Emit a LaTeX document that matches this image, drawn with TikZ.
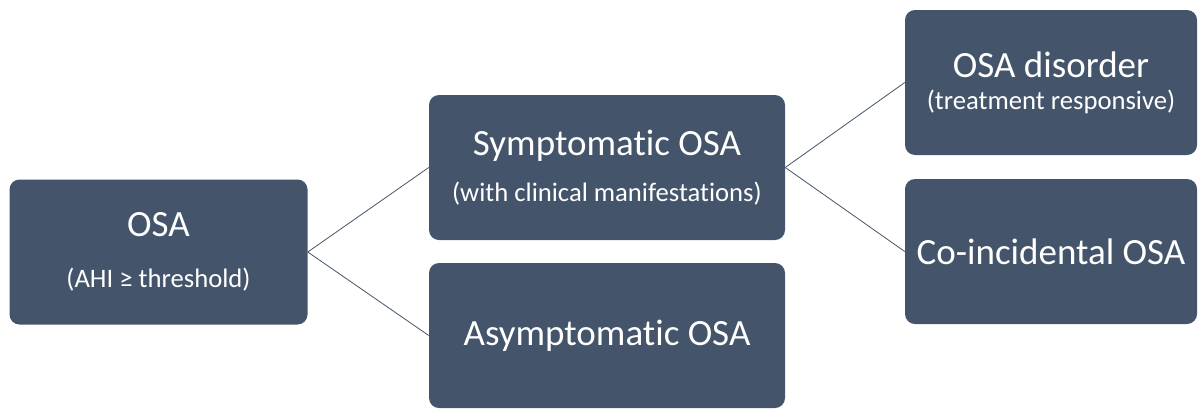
\documentclass[tikz,border=0pt]{standalone}
\usepackage{fontspec}
\setmainfont{Carlito}[Ligatures=NoCommon]
\usepackage{tikz}

\definecolor{slatebox}{RGB}{68,84,106}
\newcommand{\ttlfont}{\fontsize{27.75}{33}\selectfont}
\newcommand{\subfont}{\fontsize{20}{24}\selectfont}

\tikzset{
  osabox/.style={rectangle, rounded corners=7.5pt, fill=slatebox, text=white,
    align=center, minimum height=108.75pt, inner sep=0pt, font=\subfont},
  link/.style={draw=slatebox, line width=0.6pt}
}

\begin{document}
\begin{tikzpicture}[x=0.75pt,y=0.75pt,yscale=-1,xscale=1]
\useasboundingbox (0,0) rectangle (1198,408);

%Shape: Rounded Rectangle [id:osa]
\node [osabox, minimum width=223.5pt] (osa) at (158.5,252)
  {{\ttlfont OSA}\\[14pt](AHI ≥ threshold)};
%Shape: Rounded Rectangle [id:symp]
\node [osabox, minimum width=267pt] (symp) at (607,167.5)
  {{\ttlfont Symptomatic OSA}\\[10.5pt](with clinical manifestations)};
%Shape: Rounded Rectangle [id:asymp]
\node [osabox, minimum width=267pt] (asymp) at (607,335.5)
  {\ttlfont Asymptomatic OSA};
%Shape: Rounded Rectangle [id:disorder]
\node [osabox, minimum width=219pt] (disorder) at (1051,82.5)
  {{\ttlfont OSA disorder}\\[0pt](treatment responsive)};
%Shape: Rounded Rectangle [id:coinc]
\node [osabox, minimum width=219pt] (coinc) at (1051,251.5)
  {\ttlfont Co-incidental OSA};

%Straight Lines
\draw [link] (osa.east) -- (symp.west) ;
\draw [link] (osa.east) -- (asymp.west) ;
\draw [link] (symp.east) -- (disorder.west) ;
\draw [link] (symp.east) -- (coinc.west) ;

\end{tikzpicture}
\end{document}
